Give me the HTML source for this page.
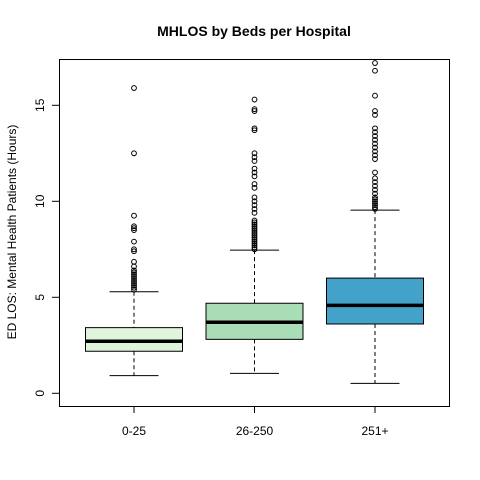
<!DOCTYPE html>
<html><head><meta charset="utf-8"><style>
html,body{margin:0;padding:0;background:#fff;}
svg{display:block;font-family:"Liberation Sans",Arial,sans-serif;}
</style></head><body>
<svg id="chart" width="480" height="480" xmlns="http://www.w3.org/2000/svg">
<rect width="480" height="480" fill="#fff"/>
<text x="254" y="36" text-anchor="middle" font-size="14" font-weight="bold">MHLOS by Beds per Hospital</text>
<text transform="translate(16,232) rotate(-90)" text-anchor="middle" font-size="12">ED LOS: Mental Health Patients (Hours)</text>
<rect x="59.5" y="59.5" width="390" height="347" fill="none" stroke="#000" stroke-width="1"/>
<g id="marks"></g>
</svg>
<script>
const categories=["0-25","26-250","251+"];
const fills=["#e0f3db","#a8ddb5","#43a2ca"];
const lowWhisker=[0.92,1.04,0.52];
const q1=[2.19,2.81,3.61];
const medians=[2.71,3.70,4.58];
const q3=[3.42,4.69,6.0];
const highWhisker=[5.29,7.46,9.54];
const outliers0=[5.4,5.5,5.6,5.7,5.8,5.9,6.0,6.1,6.2,6.3,6.4,6.6,6.85,7.4,7.5,7.9,8.5,8.6,8.7,9.25,12.5,15.9];
const outliers1=[7.5,7.6,7.7,7.8,7.9,8.0,8.1,8.2,8.3,8.4,8.5,8.6,8.7,8.8,8.9,9.0,9.4,9.6,9.8,10.0,10.2,10.7,10.9,11.3,11.5,11.7,12.1,12.3,12.5,13.7,13.8,14.7,14.8,15.3];
const outliers2=[9.6,9.7,9.8,9.9,10.0,10.1,10.2,10.4,10.6,10.8,11.0,11.2,11.5,12.2,12.4,12.6,12.8,13.0,13.2,13.4,13.6,13.8,14.5,14.7,15.5,16.8,17.2];
const outliers=[outliers0,outliers1,outliers2];
const yTicks=[0,5,10,15];
const NS="http://www.w3.org/2000/svg";
const g=document.getElementById('marks');
function yS(v){return 393.3-19.2*v;}
function xS(i){return 134+i*120.5;}
function mk(t,a,p){const e=document.createElementNS(NS,t);for(const k in a)e.setAttribute(k,a[k]);(p||g).appendChild(e);return e;}
const boxW=97,capW=49;
yTicks.forEach(t=>{
  const l=mk('line',{x1:52,x2:59.5,y1:yS(t),y2:yS(t),stroke:'#000'});
  
  
  const tx=mk('text',{x:0,y:0,'font-size':12,'text-anchor':'middle',transform:`translate(44,${yS(t)}) rotate(-90)`});
  tx.textContent=t;
  
  
});
categories.forEach((c,i)=>{
  const cx=xS(i);
  const grp=mk('g',{});
  
  
  mk('line',{x1:cx,x2:cx,y1:yS(highWhisker[i]),y2:yS(q3[i]),stroke:'#000','stroke-dasharray':'4,3'},grp);
  mk('line',{x1:cx,x2:cx,y1:yS(q1[i]),y2:yS(lowWhisker[i]),stroke:'#000','stroke-dasharray':'4,3'},grp);
  mk('line',{x1:cx-capW/2,x2:cx+capW/2,y1:yS(highWhisker[i]),y2:yS(highWhisker[i]),stroke:'#000'},grp);
  mk('line',{x1:cx-capW/2,x2:cx+capW/2,y1:yS(lowWhisker[i]),y2:yS(lowWhisker[i]),stroke:'#000'},grp);
  mk('rect',{x:cx-boxW/2,y:yS(q3[i]),width:boxW,height:yS(q1[i])-yS(q3[i]),fill:fills[i],stroke:'#000'},grp);
  mk('line',{x1:cx-boxW/2,x2:cx+boxW/2,y1:yS(medians[i]),y2:yS(medians[i]),stroke:'#000','stroke-width':3.5},grp);
  outliers[i].forEach(v=>{
    const p=mk('circle',{cx:cx,cy:yS(v),r:2.4,fill:'none',stroke:'#000','stroke-width':1},grp);
    
    
  });
  const t=mk('line',{x1:cx,x2:cx,y1:406.5,y2:413,stroke:'#000'});
  
  
  const tx=mk('text',{x:cx,y:435,'font-size':12,'text-anchor':'middle'});
  tx.textContent=c;
  
  
});
</script>
</body></html>
